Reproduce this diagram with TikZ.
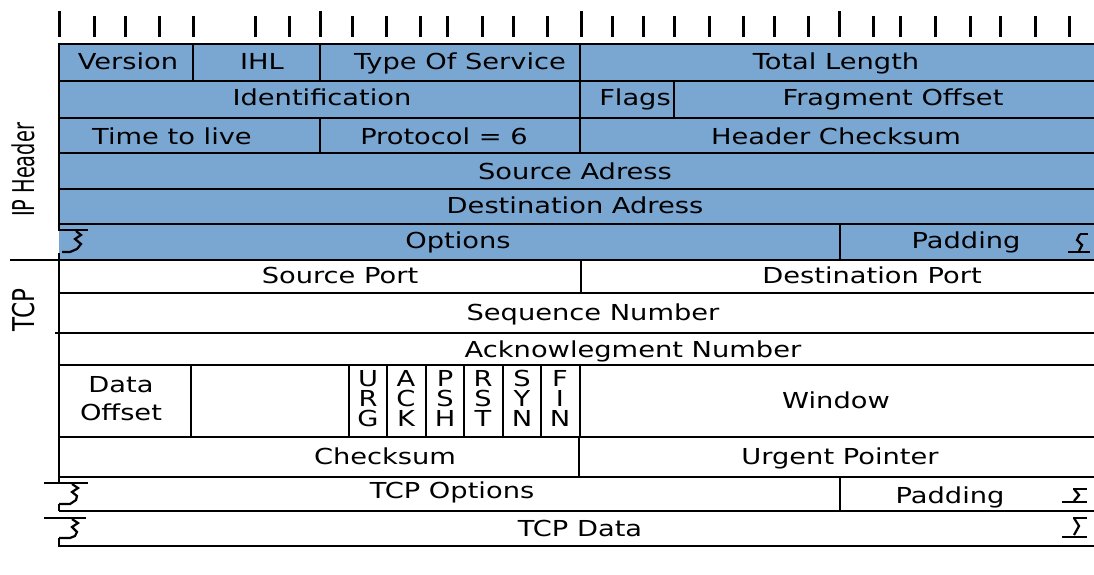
\documentclass[tikz,border=0pt]{standalone}
\usepackage{fontspec}
\newfontfamily\fieldfont[FakeStretch=1.24]{DejaVu Sans}
\newfontfamily\sidefont{DejaVu Sans}
\definecolor{hdrblue}{RGB}{122,166,210}
\begin{document}
\begin{tikzpicture}[x=1pt,y=-1pt,
  grid/.style={line width=2.6pt},
  tickmark/.style={line width=3pt},
  cut/.style={line width=2.2pt,line join=miter},
  fld/.style={anchor=base,inner sep=0pt,font=\fieldfont\fontsize{22}{20}\selectfont},
  side/.style={rotate=90,inner sep=0pt,font=\sidefont\fontsize{30}{30}\selectfont}]
\useasboundingbox (0,0) rectangle (1094,574);
\clip (0,0) rectangle (1094,574);

% IP header background
\fill[hdrblue] (59,44) rectangle (1110,260);

% bit ruler
\foreach \x in {94,125,159,193,255,289,352,386,420,447,482,513,547,612,643,674,709,743,774,808,873,900,935,970,1000,1035,1069}
  \draw[tickmark] (\x,16) -- (\x,37);
\foreach \x in {59,320,581,839}
  \draw[tickmark] (\x,11) -- (\x,37);

% row separators
\foreach \y in {44,81,118,153,189,224,260,293,333,365,437,477,511,546}
  \draw[grid] (59,\y) -- (1110,\y);
\draw[grid] (10,260) -- (59,260);
\draw[grid] (55,333) -- (59,333);

% left border with break marks
\draw[grid] (59,42.7) -- (59,230) -- (88,230);
\draw[grid] (59,253) -- (59,483);
\draw[grid] (44,483) -- (88,483);
\draw[grid] (59,504) -- (59,511);
\draw[grid] (44,518) -- (86,518);
\draw[grid] (59,538) -- (59,547.3);
\draw[cut] (76,231) -- (81,235) -- (75,239) -- (81,244) -- (77,249) -- (70,252) -- (62,252);
\draw[cut] (72,484) -- (78,488) -- (72,492) -- (77,496) -- (76,500) -- (70,504) -- (59,504);
\draw[cut] (72,519) -- (78,523) -- (72,527) -- (77,532) -- (75,536) -- (70,538) -- (59,538);

% right break marks
\draw[cut] (1080,234) -- (1088,234);
\draw[cut] (1080,234) -- (1077,240) -- (1082,245) -- (1079,251);
\draw[cut] (1068,252) -- (1090,252);
\draw[cut] (1073,489) -- (1087,489);
\draw[cut] (1074,489) -- (1079,495) -- (1074,501);
\draw[cut] (1062,502) -- (1087,502);
\draw[cut] (1073,518) -- (1087,518);
\draw[cut] (1074,518) -- (1079,526) -- (1074,535);
\draw[cut] (1062,537) -- (1087,537);

% field dividers
\draw[grid] (193,44) -- (193,80);
\draw[grid] (320,44) -- (320,81);
\draw[grid] (580,44) -- (580,153);
\draw[grid] (674,81) -- (674,118);
\draw[grid] (320,118) -- (320,153);
\draw[grid] (840,224) -- (840,260);
\draw[grid] (581,260) -- (581,293);
\foreach \x in {191,349,387,426,464,503,541,580}
  \draw[grid] (\x,365) -- (\x,437);
\draw[grid] (579,437) -- (579,477);
\draw[grid] (840,477) -- (840,511);

% side labels
\node[side] (iplabel) at (23,170) {\scalebox{0.645}[1]{IP Header}};
\node[side] (tcplabel) at (24,310) {\scalebox{0.77}[1]{TCP}};

% IP header fields
\node[fld] (version) at (128,69) {Version};
\node[fld] (ihl) at (262,69) {IHL};
\node[fld] (tos) at (460,69) {Type Of Service};
\node[fld] (totlen) at (836,69) {Total Length};
\node[fld] (ident) at (322,105) {Identification};
\node[fld] (ipflags) at (635,105) {Flags};
\node[fld] (fragoff) at (893,105) {Fragment Offset};
\node[fld] (ttl) at (172,144) {Time to live};
\node[fld] (proto) at (444,144) {Protocol = 6};
\node[fld] (hdrsum) at (836,144) {Header Checksum};
\node[fld] (srcaddr) at (575,179) {Source Adress};
\node[fld] (dstaddr) at (575,213) {Destination Adress};
\node[fld] (ipopts) at (458,248) {Options};
\node[fld] (ippad) at (966,248) {Padding};

% TCP header fields
\node[fld] (srcport) at (340,283) {Source Port};
\node[fld] (dstport) at (872,283) {Destination Port};
\node[fld] (seqno) at (593,320) {Sequence Number};
\node[fld] (ackno) at (633,357) {Acknowlegment Number};
\node[fld] (doffa) at (121,392) {Data};
\node[fld] (doffb) at (121,420) {Offset};
\node[fld] (window) at (836,408) {Window};
% control flags, one letter per line
\foreach \a/\b/\c/\x [count=\i] in {U/R/G/368,A/C/K/406,P/S/H/445,R/S/T/483,S/Y/N/522,F/I/N/560} {
  \node[fld] (flag\i a) at (\x,386) {\a};
  \node[fld] (flag\i b) at (\x,406) {\b};
  \node[fld] (flag\i c) at (\x,426) {\c};
}
\node[fld] (tcpsum) at (385,464) {Checksum};
\node[fld] (urgptr) at (840,464) {Urgent Pointer};
\node[fld] (tcpopts) at (452,498) {TCP Options};
\node[fld] (tcppad) at (950,503) {Padding};
\node[fld] (tcpdata) at (580,536) {TCP Data};
\end{tikzpicture}
\end{document}
